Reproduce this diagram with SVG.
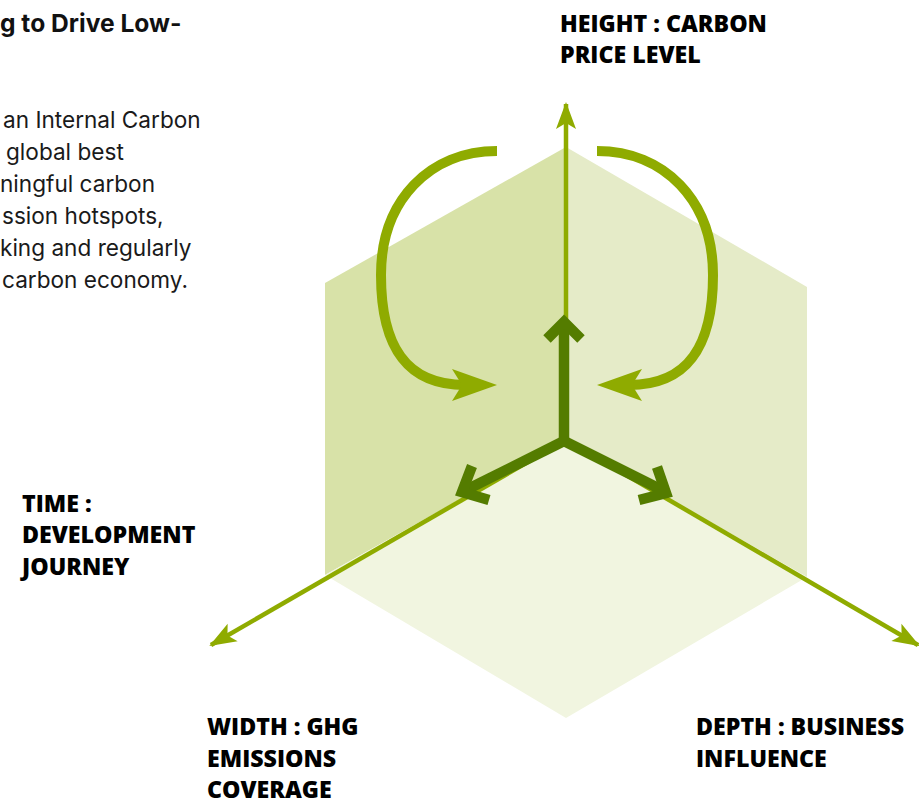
<svg xmlns="http://www.w3.org/2000/svg" width="919" height="804" viewBox="0 0 919 804">
<defs>
<style>
.body{font-family:Inter,"Noto Sans",sans-serif;font-size:22.6px;fill:#1a1a1a}
.title{font-family:Inter,"Noto Sans",sans-serif;font-size:24.6px;font-weight:700;fill:#111}
.lbl{font-family:"Open Sans","Noto Sans",sans-serif;font-size:23.2px;font-weight:800;fill:#000}
.axis{stroke:#8fab00;stroke-width:4.5;fill:none}
.dark{stroke:#547c00;stroke-width:10.5;fill:none}
.curve{stroke:#8fab00;stroke-width:10;fill:none}
</style>
<marker id="ah" viewBox="0 0 30 24" refX="28" refY="12" markerWidth="30" markerHeight="24" markerUnits="userSpaceOnUse" orient="auto">
<path d="M30,12 L3,2 L9,12 L3,22 Z" fill="#8fab00"/>
</marker>
</defs>
<rect width="919" height="804" fill="#fff"/>
<g id="text-block">
<text class="title" x="0" y="32">g to Drive Low-</text>
<text class="body" x="3" y="128">an Internal Carbon</text>
<text class="body" x="6" y="160">global best</text>
<text class="body" x="0" y="192">ningful carbon</text>
<text class="body" x="2" y="224">ssion hotspots,</text>
<text class="body" x="0" y="256">king and regularly</text>
<text class="body" x="2" y="288">carbon economy.</text>
</g>
<g id="cube">
<polygon id="face-left" points="566,147 325,283 325,575 566,440" fill="#d8e2a8"/>
<polygon id="face-right" points="566,147 807,287 807,577 566,440" fill="#e5ebc8"/>
<polygon id="face-bottom" points="566,440 325,575 566,718 807,577" fill="#f1f5e0"/>
</g>
<g id="connectors">
<line class="axis" x1="566" y1="440" x2="566" y2="104" marker-end="url(#ah)"/>
<line class="axis" x1="566" y1="440" x2="211" y2="645" marker-end="url(#ah)"/>
<line class="axis" x1="566" y1="440" x2="918" y2="645" marker-end="url(#ah)"/>
<path class="curve" d="M497,151 C430,151 381,200 381,275 C381,345 405,385 465,385"/>
<polygon points="497,385 452,369 462,385 452,401" fill="#8fab00"/>
<path class="curve" d="M597,151 C664,151 713,200 713,275 C713,345 689,385 629,385"/>
<polygon points="597,385 642,369 632,385 642,401" fill="#8fab00"/>
<g id="dark-arrows">
<polyline class="dark" points="564,441 564,322"/>
<polyline class="dark" points="547,339 564,322 581,339"/>
<polyline class="dark" points="564,441 466,490"/>
<polyline class="dark" points="472,466 462,492 489,500"/>
<polyline class="dark" points="564,441 664,491"/>
<polyline class="dark" points="639,500 666,493 657,467"/>
</g>
</g>
<g id="label-height"><text class="lbl" x="560" y="32">HEIGHT : CARBON</text><text class="lbl" x="560" y="63">PRICE LEVEL</text></g>
<g id="label-time"><text class="lbl" x="22" y="512">TIME :</text><text class="lbl" x="22" y="543">DEVELOPMENT</text><text class="lbl" x="22" y="575">JOURNEY</text></g>
<g id="label-width"><text class="lbl" x="207" y="735">WIDTH : GHG</text><text class="lbl" x="207" y="767">EMISSIONS</text><text class="lbl" x="207" y="798">COVERAGE</text></g>
<g id="label-depth"><text class="lbl" x="696" y="735">DEPTH : BUSINESS</text><text class="lbl" x="696" y="767">INFLUENCE</text></g>
</svg>
